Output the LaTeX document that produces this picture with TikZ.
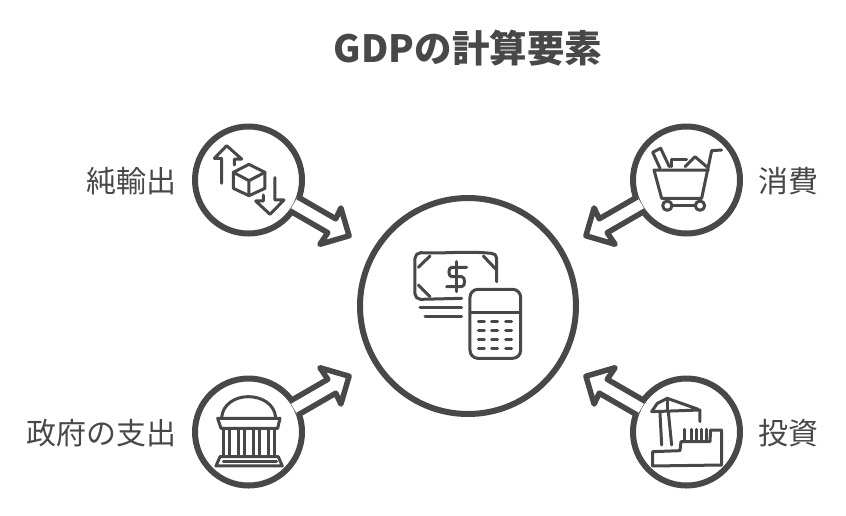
\documentclass[tikz,border=0pt]{standalone}
\usepackage{fontspec}
\usepackage{xcolor}
\setmainfont{Noto Sans CJK JP}
\definecolor{ink}{HTML}{484848}

\tikzset{
	ring/.style={circle,draw=ink,fill=white,line width=6pt,inner sep=0pt},
	lab/.style={inner sep=0pt,text=ink,font=\fontsize{30}{32}\selectfont},
	sketch/.style={draw=ink,line width=3pt,line join=round,line cap=round},
	zoomed/.style={x=0.3333pt,y=-0.3333pt}
}

% one outlined arrow leaving a small ring, mirrored by #2 and #3
\newcommand{\ringarrow}[3]{
	\begin{scope}[shift={(#1.center)},xscale=#2,yscale=#3,rotate=-30]
		\filldraw [draw=ink,fill=white,line width=5.5pt,line join=round]
			(51,-10) -- (95,-10) -- (94,-22) -- (115,-2) -- (94,20) -- (95,6) -- (51,6);
	\end{scope}
}

\begin{document}
\begin{tikzpicture}[x=1pt,y=-1pt]
	\useasboundingbox (0,0) rectangle (846,515);

	\node (title) at (468,48) [text=ink,inner sep=0pt,font=\fontsize{37.5}{40}\selectfont\bfseries] {GDPの計算要素};

	\node (gdp) at (468,306) [ring,minimum size=216pt] {};
	\node (netexport) at (248.5,180) [ring,minimum size=107pt] {};
	\node (consume) at (686.5,180) [ring,minimum size=107pt] {};
	\node (govern) at (248.5,432) [ring,minimum size=107pt] {};
	\node (invest) at (686.5,432) [ring,minimum size=107pt] {};

	\ringarrow{netexport}{1}{1}
	\ringarrow{consume}{-1}{1}
	\ringarrow{govern}{1}{-1}
	\ringarrow{invest}{-1}{-1}

	\node (netexportlab) [lab,anchor=east,xshift=-15pt,yshift=-1.5pt] at (netexport.west) {純輸出};
	\node (consumelab) [lab,anchor=west,xshift=15pt,yshift=-1.5pt] at (consume.east) {消費};
	\node (governlab) [lab,anchor=east,xshift=-15pt,yshift=-1.5pt] at (govern.west) {政府の支出};
	\node (investlab) [lab,anchor=west,xshift=15pt,yshift=-1.5pt] at (invest.east) {投資};

	% money and calculator
	\begin{scope}[shift={(350,190)},zoomed]
		\draw [sketch] (440,275) -- (440,205) to[out=90,in=0] (425,190) .. controls (340,182) and (280,192) .. (212,188) to[out=180,in=90] (195,205) -- (195,312) to[out=-90,in=180] (212,328) -- (335,325);
		\draw [sketch] (205,232) -- (240,198) (205,285) -- (240,320) (400,198) -- (440,240);
		\draw [sketch] (350,232) -- (305,232) to[out=180,in=180] (305,260) -- (335,260) to[out=0,in=0] (335,290) -- (290,290);
		\draw [sketch] (320,215) -- (320,305);
		\draw [sketch] (210,352) -- (335,352) (225,380) -- (335,380);
		\draw [sketch,rounded corners=8pt] (360,298) rectangle (512,505);
		\draw [sketch] (362,368) -- (512,368);
		\foreach \row in {395,422,449,476}
			\foreach \col in {385,425,467}
				\draw [sketch] (\col,\row) -- ++(18,0);
	\end{scope}

	% boxes going out and in
	\begin{scope}[shift={(185,115)},zoomed]
		\draw [sketch] (110,205) -- (110,130) -- (88,130) -- (125,92) -- (170,132) -- (148,132) -- (148,150);
		\draw [sketch] (270,188) -- (270,255) -- (297,255) -- (255,298) -- (212,258) -- (235,258) -- (235,240);
		\draw [sketch] (192,148) -- (240,172) -- (240,220) -- (192,242) -- (145,220) -- (145,172) -- cycle;
		\draw [sketch] (145,172) -- (192,197) -- (240,172) (192,197) -- (192,242);
	\end{scope}

	% cart
	\begin{scope}[shift={(580,115)},zoomed]
		\draw [sketch] (425,105) -- (395,107) -- (365,250) -- (245,250) -- (222,165) -- (385,165);
		\draw [sketch] (262,272) circle (14);
		\draw [sketch] (360,272) circle (14);
		\draw [sketch] (276,272) -- (346,272);
		\draw [sketch] (240,160) -- (218,112) -- (242,100) -- (268,155);
		\draw [sketch] (275,155) -- (275,133) -- (320,133);
		\draw [sketch] (315,155) -- (345,125) -- (380,155);
	\end{scope}

	% government building
	\begin{scope}[shift={(185,360)},zoomed]
		\draw [sketch] (110,172) to[out=85,in=180] (190,110) to[out=0,in=95] (272,172);
		\draw [sketch] (98,175) -- (285,175) -- (278,205) -- (108,205) -- cycle;
		\foreach \col in {115,135,160,180,205,225,250,268}
			\draw [sketch] (\col,205) -- (\col,285);
		\draw [sketch] (105,290) -- (280,290) -- (292,318) -- (93,318) -- cycle;
		\draw [sketch] (115,305) -- (275,305);
	\end{scope}

	% crane and stairs
	\begin{scope}[shift={(580,360)},zoomed]
		\draw [sketch] (360,185) -- (360,150) -- (215,155) -- (232,130) -- (262,115) -- (355,148);
		\draw [sketch] (262,115) -- (262,150);
		\draw [sketch] (240,160) -- (245,255) (265,155) -- (275,255);
		\draw [sketch] (218,275) -- (300,272) -- (303,245) -- (390,245) -- (392,210) -- (425,210) -- (425,315) -- (218,318) -- cycle;
		\foreach \col in {315,335,350,365,380}
			\draw [sketch] (\col,208) -- (\col,240);
	\end{scope}
\end{tikzpicture}
\end{document}
